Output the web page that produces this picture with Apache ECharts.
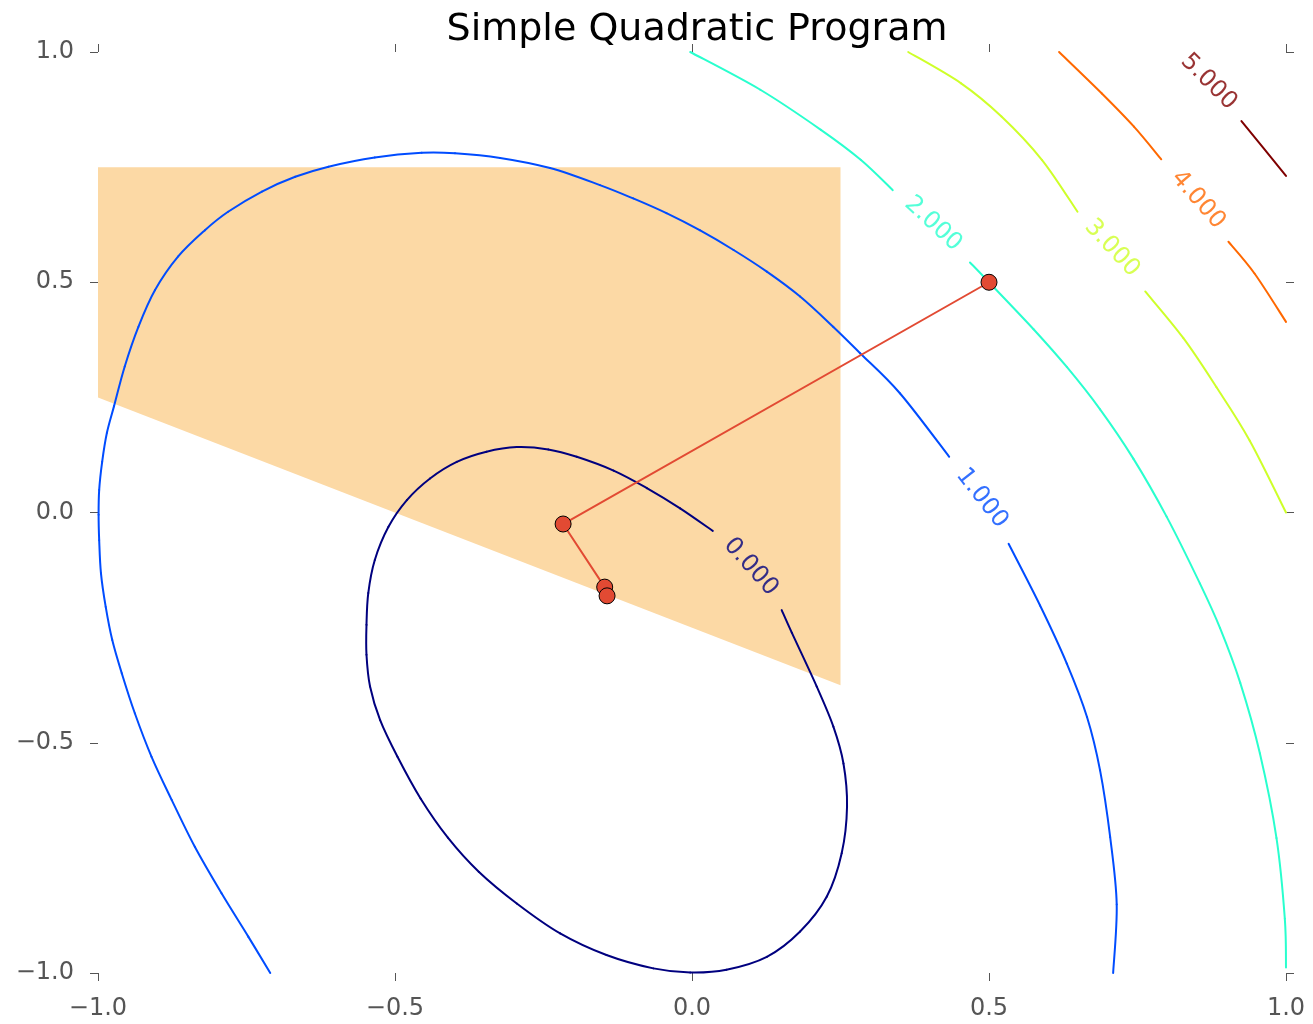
<!DOCTYPE html>
<html>
<head>
<meta charset="utf-8">
<title>Simple Quadratic Program</title>
<script src="https://cdn.jsdelivr.net/npm/echarts@6/dist/echarts.min.js"></script>
<style>
  html, body { margin: 0; padding: 0; background: #fff; }
  #chart { width: 1313px; height: 1024px; }
</style>
</head>
<body>
<div id="chart"></div>
<script>
// contour levels and their jet colours
const levels = [0, 1, 2, 3, 4, 5]
const levelColors = ['#00007f', '#004cff', '#29ffce', '#ceff29', '#ff6800', '#7f0000']

// contour lines (gaps where the labels sit)
const contour0 = [
  [0.151, -0.212], [0.168, -0.261], [0.210, -0.378], [0.238, -0.465], [0.255, -0.545],
  [0.261, -0.639], [0.252, -0.740], [0.227, -0.834], [0.182, -0.910], [0.126, -0.965],
  [0.058, -0.993], [-0.003, -0.999], [-0.065, -0.990], [-0.144, -0.961], [-0.222, -0.914],
  [-0.295, -0.849], [-0.359, -0.780], [-0.411, -0.706], [-0.457, -0.621], [-0.496, -0.530],
  [-0.525, -0.451], [-0.542, -0.378], [-0.548, -0.309], [-0.548, -0.244], [-0.545, -0.175],
  [-0.534, -0.103], [-0.511, -0.031], [-0.480, 0.027], [-0.441, 0.074], [-0.396, 0.110],
  [-0.346, 0.132], [-0.295, 0.142], [-0.242, 0.137], [-0.194, 0.121], [-0.132, 0.091],
  [-0.076, 0.053], [-0.020, 0.009], [0.035, -0.040]
]
const contour1a = [
  [-0.710, -1.0], [-0.747, -0.921], [-0.792, -0.827], [-0.837, -0.726], [-0.876, -0.624],
  [-0.910, -0.530], [-0.938, -0.436], [-0.960, -0.349], [-0.976, -0.277], [-0.987, -0.205],
  [-0.995, -0.132], [-0.998, -0.060], [-0.999, -0.005], [-0.998, 0.049], [-0.993, 0.110],
  [-0.985, 0.173], [-0.973, 0.231], [-0.955, 0.317], [-0.932, 0.403], [-0.904, 0.483],
  [-0.865, 0.556], [-0.820, 0.613], [-0.781, 0.653], [-0.724, 0.697], [-0.668, 0.729],
  [-0.612, 0.751], [-0.534, 0.771], [-0.455, 0.781], [-0.399, 0.780], [-0.323, 0.770],
  [-0.239, 0.748], [-0.155, 0.711], [-0.099, 0.682], [-0.043, 0.650], [0.013, 0.613],
  [0.070, 0.570], [0.126, 0.523], [0.182, 0.469], [0.238, 0.403], [0.283, 0.346],
  [0.350, 0.259], [0.433, 0.121]
]
const contour1b = [
  [0.533, -0.068], [0.586, -0.202], [0.631, -0.328], [0.665, -0.444], [0.687, -0.560],
  [0.704, -0.705], [0.715, -0.851], [0.709, -1.0]
]
const contour2a = [
  [-0.003, 1.0], [0.115, 0.918], [0.217, 0.831], [0.284, 0.766], [0.338, 0.700]
]
const contour2b = [
  [0.468, 0.543], [0.500, 0.500], [0.575, 0.398], [0.631, 0.316], [0.687, 0.224],
  [0.743, 0.117], [0.799, -0.009], [0.855, -0.154], [0.889, -0.251], [0.923, -0.370],
  [0.956, -0.523], [0.984, -0.707], [0.998, -0.882], [1.0, -0.988]
]
const contour3a = [
  [0.364, 1.0], [0.453, 0.932], [0.521, 0.860], [0.589, 0.766], [0.649, 0.653]
]
const contour3b = [
  [0.763, 0.480], [0.827, 0.379], [0.883, 0.272], [0.939, 0.156], [1.0, 0.0]
]
const contour4a = [
  [0.618, 1.0], [0.690, 0.910], [0.744, 0.838], [0.790, 0.767]
]
const contour4b = [
  [0.903, 0.588], [0.947, 0.519], [1.0, 0.414]
]
const contour5a = [
  [0.925, 0.850], [1.0, 0.731]
]

// where each level's label sits
const labelX = [0.099, 0.488, 0.406, 0.707, 0.852, 0.870]
const labelY = [-0.118, 0.031, 0.627, 0.574, 0.679, 0.935]

// feasible region corners
const regionX = [-1, 0.25, 0.25, -1]
const regionY = [0.75, 0.75, -0.375, 0.25]

// iterates of the solver
const pathX = [0.5, -0.217, -0.147, -0.143]
const pathY = [0.5, -0.025, -0.162, -0.181]

const tickValues = [-1, -0.5, 0, 0.5, 1]

const labelRotate = [-48, -52, -43, -47, -49, -45]
const font = 'DejaVu Sans'

const fmt = v => (v < 0 ? '\u2212' + Math.abs(v).toFixed(1) : v.toFixed(1))

const segments = [
  [0, contour0], [1, contour1a], [1, contour1b], [2, contour2a], [2, contour2b],
  [3, contour3a], [3, contour3b], [4, contour4a], [4, contour4b], [5, contour5a]
]

const chart = echarts.init(document.getElementById('chart'))

const axisBase = (pos, showLabel, margin) => ({
  type: 'value',
  position: pos,
  min: tickValues[0],
  max: tickValues[tickValues.length - 1],
  interval: 0.5,
  axisLine: { show: true, onZero: false, lineStyle: { opacity: 0 } },
  axisTick: { show: true, inside: false, length: 8, lineStyle: { color: '#555', width: 1 } },
  splitLine: { show: false },
  axisLabel: {
    show: showLabel,
    formatter: fmt,
    fontSize: 24,
    color: '#555',
    fontFamily: font,
    margin: margin,
    showMinLabel: true,
    showMaxLabel: true
  }
})

// catmull-rom through the projected points, without the line series' bbox clamp
const smoothCurve = (pts, color) => (params, api) => {
  if (params.dataIndex !== 0) return
  const p = pts.map(d => api.coord(d))
  const n = p.length
  const k = 1 / 6
  const children = []
  for (let i = 0; i < n - 1; i++) {
    const p0 = p[Math.max(i - 1, 0)]
    const p1 = p[i]
    const p2 = p[i + 1]
    const p3 = p[Math.min(i + 2, n - 1)]
    children.push({
      type: 'bezierCurve',
      shape: {
        x1: p1[0], y1: p1[1], x2: p2[0], y2: p2[1],
        cpx1: p1[0] + (p2[0] - p0[0]) * k, cpy1: p1[1] + (p2[1] - p0[1]) * k,
        cpx2: p2[0] - (p3[0] - p1[0]) * k, cpy2: p2[1] - (p3[1] - p1[1]) * k
      },
      style: { stroke: color, lineWidth: 2, fill: null, lineCap: 'round' }
    })
  }
  return { type: 'group', children: children }
}

const series = []

series.push({
  type: 'custom',
  z: 1,
  silent: true,
  data: regionX.map((x, i) => [x, regionY[i]]),
  renderItem: (params, api) => {
    if (params.dataIndex !== 0) return
    const pts = regionX.map((x, i) => api.coord([x, regionY[i]]))
    return { type: 'polygon', shape: { points: pts }, style: { fill: '#fcd9a5' } }
  }
})

segments.forEach(([lvl, pts]) => {
  series.push({
    type: 'custom',
    z: 2,
    silent: true,
    data: pts,
    renderItem: smoothCurve(pts, levelColors[lvl])
  })
})

series.push({
  type: 'scatter',
  z: 3,
  silent: true,
  symbolSize: 0,
  data: levels.map((lvl, i) => ({
    value: [labelX[i], labelY[i]],
    label: {
      show: true,
      position: 'inside',
      formatter: lvl.toFixed(3),
      rotate: labelRotate[i],
      color: levelColors[i],
      fontSize: 24,
      fontFamily: font
    }
  }))
})

series.push({
  type: 'line',
  z: 4,
  silent: true,
  data: pathX.map((x, i) => [x, pathY[i]]),
  symbol: 'circle',
  symbolSize: 16,
  showSymbol: true,
  lineStyle: { color: '#e24a33', width: 2 },
  itemStyle: { color: '#e24a33', borderColor: '#000', borderWidth: 1 }
})

chart.setOption({
  animation: false,
  backgroundColor: '#fff',
  title: {
    text: 'Simple Quadratic Program',
    left: 692,
    textAlign: 'center',
    top: 6,
    textStyle: { fontSize: 38, fontWeight: 'normal', color: '#000', fontFamily: font }
  },
  grid: { left: 98, right: 27, top: 52, bottom: 51, containLabel: false },
  xAxis: [axisBase('bottom', true, 24), axisBase('top', false, 8)],
  yAxis: [axisBase('left', true, 24), axisBase('right', false, 8)],
  series: series
})

window.addEventListener('resize', () => chart.resize())
</script>
</body>
</html>
